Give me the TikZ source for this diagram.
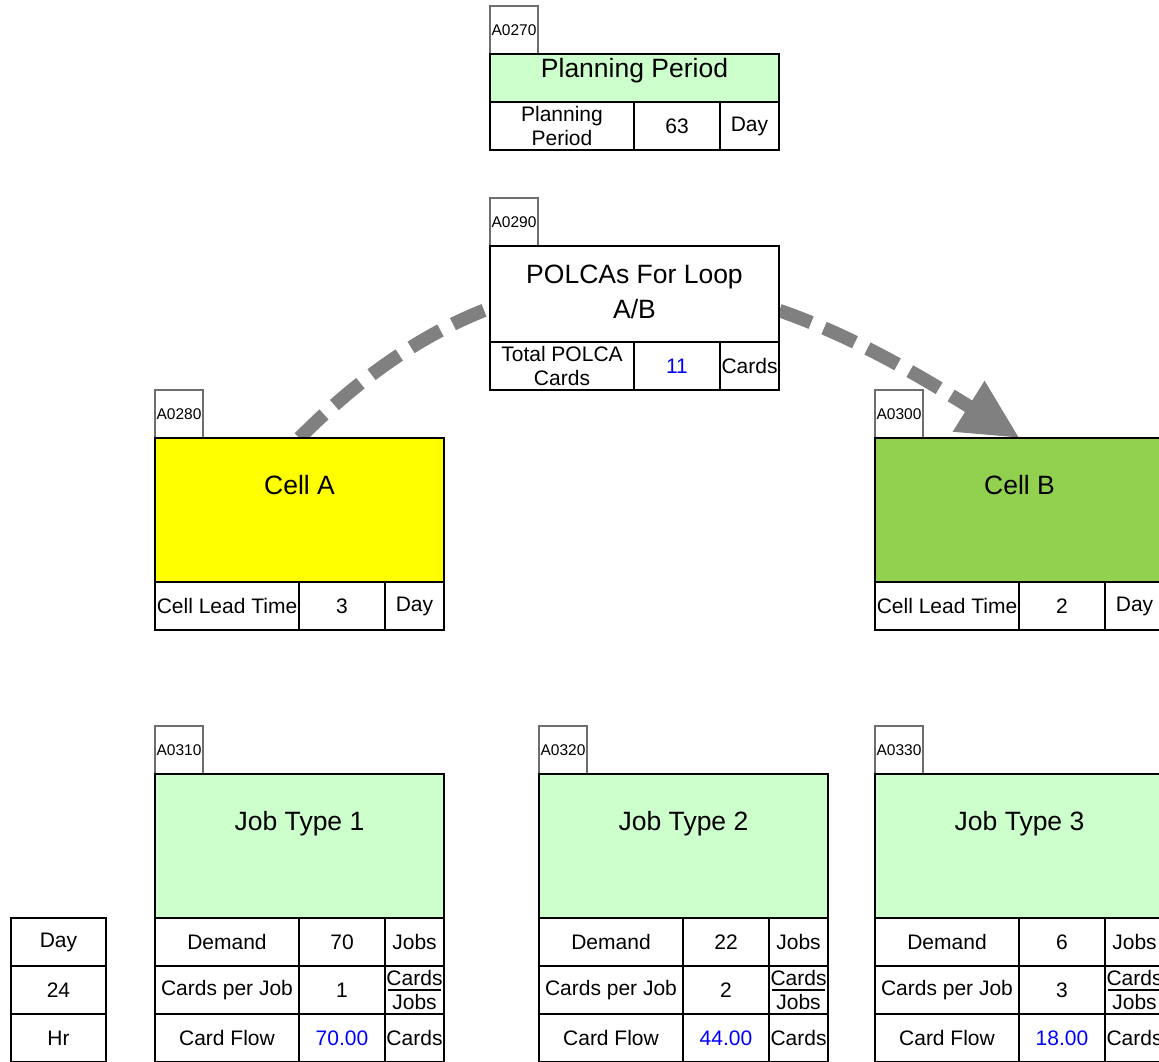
\documentclass[tikz,border=0pt]{standalone}
\usepackage{fontspec}
\setmainfont{Liberation Sans}
\usetikzlibrary{arrows.meta,calc,backgrounds}
\definecolor{lgreen}{RGB}{204,255,204}
\definecolor{cellyellow}{RGB}{255,255,0}
\definecolor{cellgreen}{RGB}{146,208,80}
\definecolor{arrowgray}{RGB}{128,128,128}
\definecolor{valblue}{RGB}{0,0,255}
\definecolor{lblgray}{RGB}{110,110,110}
\begin{document}
\begin{tikzpicture}[x=1pt,y=-1pt,
 lbl/.style={draw=lblgray, line width=1.3pt, fill=white, minimum width=48pt, minimum height=48pt, inner sep=0pt, outer sep=0pt, anchor=north west, font=\fontsize{15.5}{18}\selectfont},
 area/.style={draw=black, line width=2pt, inner sep=0pt, outer sep=0pt, minimum width=289pt, anchor=north west},
 ttl/.style={font=\fontsize{26.5}{35}\selectfont, inner sep=0pt, anchor=base},
 cell/.style={draw=black, line width=2pt, fill=white, inner sep=0pt, outer sep=0pt, minimum height=48pt, anchor=north west, font=\fontsize{21}{24}\selectfont, align=center},
 cA/.style={cell, minimum width=144pt},
 cB/.style={cell, minimum width=86pt},
 cC/.style={cell, minimum width=59pt},
 cL/.style={cell, minimum width=95pt},
 calcval/.style={text=valblue},
 fracline/.style={draw=black, line width=1.6pt},
 flow/.style={draw=arrowgray, line width=13.5pt, dash pattern=on 34pt off 14pt, -{Triangle[length=60pt,width=56pt]}}
]
\useasboundingbox (0,0) rectangle (1159,1061);

% ---------- Planning Period ----------
\node[lbl] (ppL) at (490,6) {A0270};
\node[area, fill=lgreen, minimum height=48pt] (pp) at (490,54) {};
\node[ttl] (ppT) at ($(pp.north)+(0,23)$) {Planning Period};
\node[cA] (pp1) at (490,102) {Planning\\Period};
\node[cB] (pp2) at (634,102) {63};
\node[cC] (pp3) at (720,102) {Day};

% ---------- POLCAs ----------
\node[lbl] (polL) at (490,198) {A0290};
\node[area, fill=white, minimum height=96pt] (pol) at (490,246) {};
\node[ttl] (polT1) at ($(pol.north)+(0,37)$) {POLCAs For Loop};
\node[ttl] (polT2) at ($(pol.north)+(0,72)$) {A/B};
\node[cA] (pol1) at (490,342) {Total POLCA\\Cards};
\node[cB, calcval] (pol2) at (634,342) {11};
\node[cC] (pol3) at (720,342) {Cards};

% ---------- Cell A ----------
\node[lbl] (caL) at (155,390) {A0280};
\node[area, fill=cellyellow, minimum height=144pt] (ca) at (155,438) {};
\node[ttl] (caT) at ($(ca.north)+(0,56)$) {Cell A};
\node[cA] (ca1) at (155,582) {Cell Lead Time};
\node[cB] (ca2) at (299,582) {3};
\node[cC] (ca3) at (385,582) {Day};

% ---------- Cell B ----------
\node[lbl] (cbL) at (875,390) {A0300};
\node[area, fill=cellgreen, minimum height=144pt] (cb) at (875,438) {};
\node[ttl] (cbT) at ($(cb.north)+(0,56)$) {Cell B};
\node[cA] (cb1) at (875,582) {Cell Lead Time};
\node[cB] (cb2) at (1019,582) {2};
\node[cC] (cb3) at (1105,582) {Day};

% ---------- flow arrow (behind boxes) ----------
\begin{scope}[on background layer]
\fill[white] (0,0) rectangle (1159,1061);
\draw[flow] (ca.north) .. controls +(258,-260) and +(-221,-138) .. (cb.north);
\end{scope}

% ---------- Job Type 1 ----------
\node[lbl] (j1L) at (155,726) {A0310};
\node[area, fill=lgreen, minimum height=144pt] (j1) at (155,774) {};
\node[ttl] (j1T) at ($(j1.north)+(0,56)$) {Job Type 1};
\node[cA] (j1a) at (155,918) {Demand};
\node[cB] (j1b) at (299,918) {70};
\node[cC] (j1c) at (385,918) {Jobs};
\node[cA] (j1d) at (155,966) {Cards per Job};
\node[cB] (j1e) at (299,966) {1};
\node[cC] (j1f) at (385,966) {Cards\\Jobs};
\draw[fracline] ($(j1f.west)+(3,0)$) -- ($(j1f.east)+(-3,0)$);
\node[cA] (j1g) at (155,1014) {Card Flow};
\node[cB, calcval] (j1h) at (299,1014) {70.00};
\node[cC] (j1i) at (385,1014) {Cards};

% ---------- Job Type 2 ----------
\node[lbl] (j2L) at (539,726) {A0320};
\node[area, fill=lgreen, minimum height=144pt] (j2) at (539,774) {};
\node[ttl] (j2T) at ($(j2.north)+(0,56)$) {Job Type 2};
\node[cA] (j2a) at (539,918) {Demand};
\node[cB] (j2b) at (683,918) {22};
\node[cC] (j2c) at (769,918) {Jobs};
\node[cA] (j2d) at (539,966) {Cards per Job};
\node[cB] (j2e) at (683,966) {2};
\node[cC] (j2f) at (769,966) {Cards\\Jobs};
\draw[fracline] ($(j2f.west)+(3,0)$) -- ($(j2f.east)+(-3,0)$);
\node[cA] (j2g) at (539,1014) {Card Flow};
\node[cB, calcval] (j2h) at (683,1014) {44.00};
\node[cC] (j2i) at (769,1014) {Cards};

% ---------- Job Type 3 ----------
\node[lbl] (j3L) at (875,726) {A0330};
\node[area, fill=lgreen, minimum height=144pt] (j3) at (875,774) {};
\node[ttl] (j3T) at ($(j3.north)+(0,56)$) {Job Type 3};
\node[cA] (j3a) at (875,918) {Demand};
\node[cB] (j3b) at (1019,918) {6};
\node[cC] (j3c) at (1105,918) {Jobs};
\node[cA] (j3d) at (875,966) {Cards per Job};
\node[cB] (j3e) at (1019,966) {3};
\node[cC] (j3f) at (1105,966) {Cards\\Jobs};
\draw[fracline] ($(j3f.west)+(3,0)$) -- ($(j3f.east)+(-3,0)$);
\node[cA] (j3g) at (875,1014) {Card Flow};
\node[cB, calcval] (j3h) at (1019,1014) {18.00};
\node[cC] (j3i) at (1105,1014) {Cards};

% ---------- left conversion table ----------
\node[cL] (lt1) at (11,918) {Day};
\node[cL] (lt2) at (11,966) {24};
\node[cL] (lt3) at (11,1014) {Hr};
\end{tikzpicture}
\end{document}
